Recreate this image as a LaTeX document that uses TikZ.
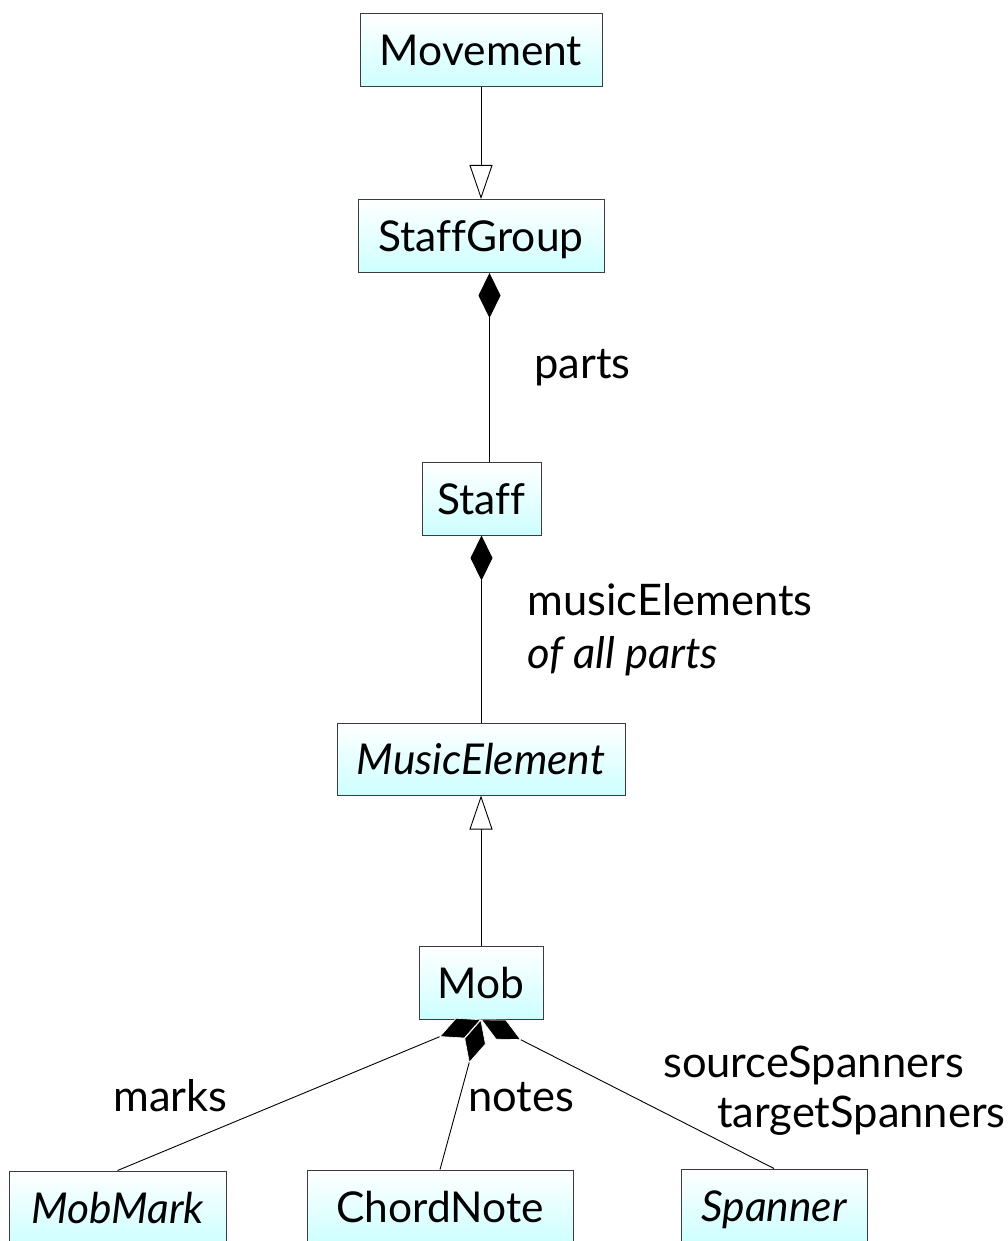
\documentclass[tikz,border=0pt]{standalone}
\usepackage{fontspec}
\setmainfont{Lato}[Ligatures=NoCommon]
\usetikzlibrary{arrows.meta,calc}
\definecolor{boxbot}{RGB}{205,255,255}
\definecolor{boxline}{RGB}{60,60,60}
\tikzset{
  cls/.style={draw=boxline, line width=1pt, top color=white, bottom color=boxbot,
    inner sep=0pt, minimum height=73pt, text height=31pt, text depth=0pt,
    font=\fontsize{42.5}{46}\selectfont},
  lbl/.style={anchor=base west, inner sep=0pt, font=\fontsize{43.5}{47}\selectfont},
  conn/.style={draw=black, line width=0.9pt},
  inherit/.style={conn, -{Triangle[open, length=34pt, width=23pt, fill=white]}},
  compose/.style={conn, {Diamond[length=45pt, width=22pt]}-},
  composew/.style={conn, {Diamond[length=45pt, width=22pt, fill=black, color=white, line width=0.6pt]}-}
}
\begin{document}
\begin{tikzpicture}[x=1pt, y=-1pt]
\clip (0,0) rectangle (1007,1241);
\fill[white] (0,0) rectangle (1007,1241);
% class boxes
\node[cls, minimum width=242pt] (mov) at (481,50.5) {Movement};
\node[cls, minimum width=246pt] (sg) at (481,236) {StaffGroup};
\node[cls, minimum width=119pt] (staff) at (481.5,498.5) {Staff};
\node[cls, minimum width=288pt, minimum height=72pt] (me) at (481,759) {\itshape MusicElement};
\node[cls, minimum width=124pt] (mob) at (481,982.5) {Mob};
\node[cls, minimum width=217pt] (mm) at (117.5,1207.5) {\itshape MobMark};
\node[cls, minimum width=266pt] (cn) at (440,1206.5) {ChordNote};
\node[cls, minimum width=186pt] (sp) at (774,1205.5) {\itshape Spanner};
% connectors
\draw[inherit] (mov.south) -- (sg.north);
\draw[compose] ([xshift=8.5pt]sg.south) -- ([xshift=8pt]staff.north);
\draw[compose] (staff.south) -- (staff.south |- me.north);
\draw[inherit] (mob.north) -- (me.south);
\draw[composew] (mob.south) -- (mm.north);
\draw[composew] (mob.south) -- (sp.north);
\draw[composew] (mob.south) -- (cn.north);
% labels
\node[lbl] (lparts) at (534,378) {parts};
\node[lbl] (lme) at (527,615) {musicElements};
\node[lbl] (lall) at (527,668) {\itshape of all parts};
\node[lbl] (lmarks) at (113,1111) {marks};
\node[lbl] (lnotes) at (468,1111) {notes};
\node[lbl] (lsrc) at (663,1077) {sourceSpanners};
\node[lbl] (ltgt) at (717,1127) {targetSpanners};
\end{tikzpicture}
\end{document}
